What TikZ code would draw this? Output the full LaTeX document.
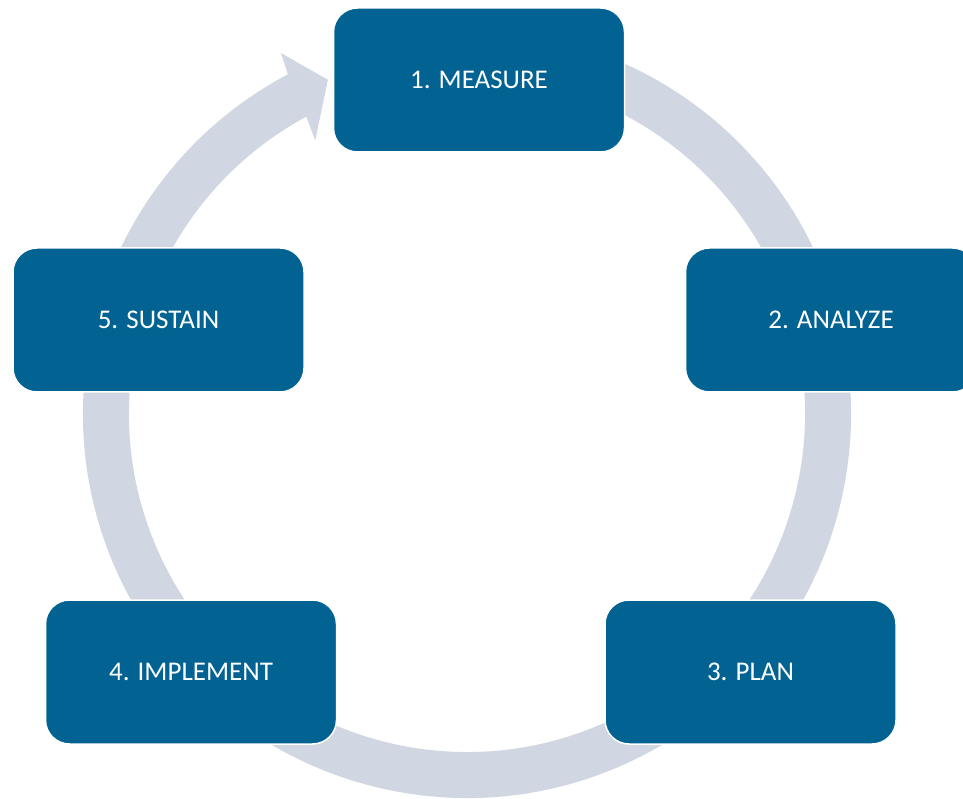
\documentclass[tikz,border=0pt]{standalone}
\usepackage{fontspec}
\setmainfont{Carlito}
\definecolor{stepblue}{RGB}{2,99,147}
\definecolor{ringgray}{RGB}{208,214,226}
\tikzset{
  stepbox/.style={rectangle, rounded corners=24pt, fill=stepblue, draw=white,
    line width=1.5pt, minimum width=291pt, minimum height=144pt, inner sep=0pt,
    text=white, font=\fontsize{27}{32}\selectfont},
  ringfill/.style={fill=ringgray}
}
\begin{document}
\begin{tikzpicture}[x=1pt,y=1pt]
  \clip (0,0) rectangle (963,798);
  \fill[white] (0,0) rectangle (963,798);
  \coordinate (c) at (467,384);
  % circular arrow running clockwise round the cycle
  \begin{scope}[shift={(c)}]
    \fill[ringfill] (80:384) arc[start angle=80, end angle=-242.2, radius=384]
      -- (-242.74:406) -- (-247.4:362) -- (-241.0:313)
      -- (-241.6:338) arc[start angle=-241.6, end angle=80, radius=338] -- cycle;
  \end{scope}
  % the five steps
  \node[stepbox] (measure) at (479,718) {1. MEASURE};
  \node[stepbox] (analyze) at (831,478) {2. ANALYZE};
  \node[stepbox] (plan) at (750.5,126) {3. PLAN};
  \node[stepbox] (implement) at (191,126) {4. IMPLEMENT};
  \node[stepbox] (sustain) at (158.5,478) {5. SUSTAIN};
\end{tikzpicture}
\end{document}
